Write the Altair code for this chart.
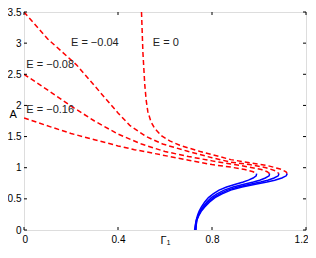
import altair as alt
import pandas as pd

# ---- data ----
# red dashed (unstable) branches, one per E
red_E0_x = [0.50, 0.506, 0.514, 0.52, 0.527, 0.54, 0.556, 0.586, 0.62, 0.663, 0.75, 0.80, 0.88, 0.96, 1.04, 1.09, 1.115, 1.12]
red_E0_A = [3.5, 2.85, 2.33, 2.08, 1.90, 1.74, 1.63, 1.51, 1.43, 1.36, 1.26, 1.21, 1.13, 1.08, 1.03, 0.98, 0.935, 0.905]

red_E004_x = [0.0, 0.10, 0.224, 0.322, 0.40, 0.45, 0.52, 0.59, 0.70, 0.80, 0.88, 0.96, 1.03, 1.07, 1.085]
red_E004_A = [3.5, 3.07, 2.65, 2.22, 1.88, 1.68, 1.50, 1.38, 1.26, 1.16, 1.09, 1.05, 1.00, 0.95, 0.905]

red_E008_x = [0.0, 0.10, 0.20, 0.30, 0.40, 0.50, 0.60, 0.70, 0.80, 0.88, 0.96, 1.01, 1.035, 1.045]
red_E008_A = [2.5, 2.25, 1.99, 1.75, 1.54, 1.38, 1.26, 1.18, 1.11, 1.06, 1.01, 0.97, 0.935, 0.905]

red_E016_x = [0.0, 0.11, 0.20, 0.30, 0.40, 0.47, 0.58, 0.70, 0.80, 0.88, 0.94, 0.975, 0.99]
red_E016_A = [1.8, 1.66, 1.55, 1.45, 1.35, 1.29, 1.21, 1.12, 1.05, 1.01, 0.97, 0.935, 0.905]

# blue solid (stable) branches, from the fold down to A = 0
blue_A = [0.905, 0.87, 0.835, 0.80, 0.77, 0.735, 0.69, 0.64, 0.58, 0.52, 0.45, 0.37, 0.30, 0.24, 0.16, 0.08, 0.0]
blue_E016_x = [0.99, 0.988, 0.975, 0.955, 0.933, 0.900, 0.862, 0.830, 0.805, 0.785, 0.769, 0.755, 0.745, 0.739, 0.733, 0.729, 0.726]
blue_E008_x = [1.045, 1.043, 1.027, 1.003, 0.976, 0.936, 0.890, 0.852, 0.821, 0.797, 0.778, 0.761, 0.749, 0.742, 0.734, 0.730, 0.728]
blue_E004_x = [1.085, 1.082, 1.064, 1.037, 1.007, 0.962, 0.911, 0.867, 0.833, 0.806, 0.784, 0.765, 0.751, 0.743, 0.735, 0.731, 0.730]
blue_E0_x = [1.12, 1.116, 1.097, 1.067, 1.034, 0.985, 0.928, 0.880, 0.843, 0.813, 0.790, 0.769, 0.754, 0.745, 0.736, 0.733, 0.732]

# curve labels
labels = ["E = \u22120.04", "E = \u22120.08", "E = \u22120.16", "E = 0"]
label_x = [0.20, 0.01, 0.01, 0.548]
label_A = [3.0, 2.65, 1.92, 3.0]

# axis ticks
x_ticks = [0, 0.4, 0.8, 1.2]
y_ticks = [0, 0.5, 1, 1.5, 2, 2.5, 3, 3.5]

# ---- tables ----
def table(curves):
    rows = []
    for name, xs, ys in curves:
        for i, (xv, av) in enumerate(zip(xs, ys)):
            rows.append({"curve": name, "x": xv, "A": av, "i": i})
    return pd.DataFrame(rows)

red_df = table([
    ("E0", red_E0_x, red_E0_A),
    ("E004", red_E004_x, red_E004_A),
    ("E008", red_E008_x, red_E008_A),
    ("E016", red_E016_x, red_E016_A),
])
blue_df = table([
    ("E0", blue_E0_x, blue_A),
    ("E004", blue_E004_x, blue_A),
    ("E008", blue_E008_x, blue_A),
    ("E016", blue_E016_x, blue_A),
])
lab_df = pd.DataFrame({"label": labels, "x": label_x, "A": label_A})
xt_df = pd.DataFrame({"x": x_ticks})
yt_df = pd.DataFrame({"A": y_ticks})

FONT = "Liberation Sans"
W, H = 282, 218

xscale = alt.Scale(domain=[0, 1.2], nice=False, zero=False)
yscale = alt.Scale(domain=[0, 3.5], nice=False, zero=False)
xaxis = alt.Axis(values=x_ticks, format="~g", title="\u0393\u2081", domain=False, ticks=False,
                 grid=False, labelFlush=True, labelFlushOffset=2, labelOverlap=False, labelPadding=4,
                 titleY=13, titleBaseline="alphabetic", titleFontWeight="normal")
yaxis = alt.Axis(values=y_ticks, format="~g", title="A", domain=False, ticks=False,
                 grid=False, labelFlush=False, labelOverlap=False, labelPadding=3,
                 titleAngle=0, titleX=-15, titleY=102, titleAlign="left", titleBaseline="middle",
                 titleFontWeight="normal")
X = alt.X("x:Q", scale=xscale, axis=xaxis)
Y = alt.Y("A:Q", scale=yscale, axis=yaxis)

red = alt.Chart(red_df).mark_line(color="#ff0000", strokeWidth=1.5, strokeDash=[5, 3], clip=True).encode(
    x=X, y=Y, detail="curve:N", order="i:Q")
blue = alt.Chart(blue_df).mark_line(color="#0000ff", strokeWidth=1.5, clip=True).encode(
    x=X, y=Y, detail="curve:N", order="i:Q")
text = alt.Chart(lab_df).mark_text(align="left", baseline="middle", font=FONT, fontSize=11,
                                   color="#222222").encode(x=X, y=Y, text="label:N")

tick_style = dict(color="#000000", strokeWidth=1)
xt_bottom = alt.Chart(xt_df).mark_rule(**tick_style).encode(x=X, y=alt.value(H), y2=alt.value(H - 3))
xt_top = alt.Chart(xt_df).mark_rule(**tick_style).encode(x=X, y=alt.value(0), y2=alt.value(3))
yt_left = alt.Chart(yt_df).mark_rule(**tick_style).encode(y=Y, x=alt.value(0), x2=alt.value(3))
yt_right = alt.Chart(yt_df).mark_rule(**tick_style).encode(y=Y, x=alt.value(W), x2=alt.value(W - 3))

chart = alt.layer(red, blue, text, xt_bottom, xt_top, yt_left, yt_right).properties(
    width=W, height=H,
    autosize="none",
    padding={"left": 16, "top": 4, "right": 2, "bottom": 16},
).configure_view(stroke="#000000", strokeWidth=1).configure_axis(
    labelFont=FONT, labelFontSize=10.5, labelColor="#222222",
    titleFont=FONT, titleFontSize=11, titleFontWeight="normal", titleColor="#222222",
).configure(background="white")

chart.save("out.html", embed_options={"renderer": "svg", "actions": False})
